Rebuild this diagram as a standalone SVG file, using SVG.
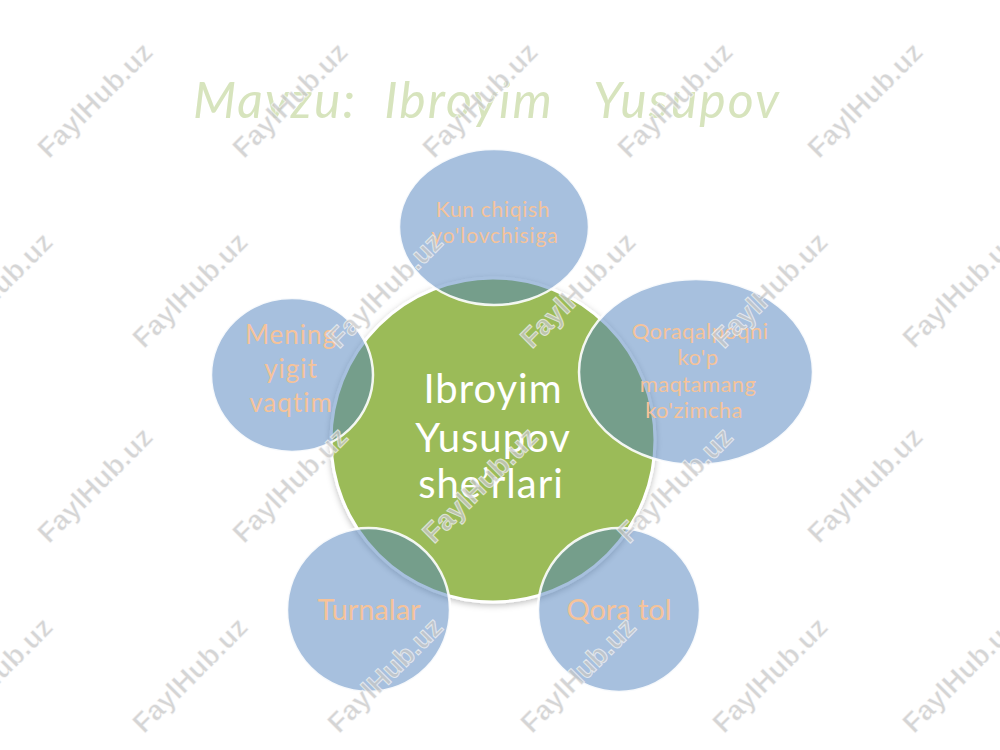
<svg xmlns="http://www.w3.org/2000/svg" width="1000" height="750" viewBox="0 0 1000 750">
  <defs>
    <filter id="shadow" x="-20%" y="-20%" width="140%" height="140%">
      <feDropShadow dx="0" dy="2" stdDeviation="3" flood-color="#000" flood-opacity="0.25"/>
    </filter>
    <style>
      .title { font-family: Lato, "Liberation Sans", sans-serif; font-style: italic; font-size: 50px; letter-spacing: 2px; fill: #D7E4BD; white-space: pre; }
      .hub { fill: #9BBB59; stroke: #FFFFFF; stroke-width: 3; }
      .sat { fill: #4F81BD; fill-opacity: 0.5; stroke: #FFFFFF; stroke-width: 2.5; stroke-opacity: 0.9; }
      .hubtext { font-family: Lato, "Liberation Sans", sans-serif; font-size: 40px; letter-spacing: 1px; fill: #FFFFFF; text-anchor: middle; }
      .sattext { font-family: Lato, "Liberation Sans", sans-serif; fill: #F5C39A; text-anchor: middle; }
      .wm { font-family: "Liberation Sans", Arial, sans-serif; font-weight: bold; font-size: 28px; fill: #C8C8C8; fill-opacity: 0.75; stroke: #FFFFFF; stroke-width: 1; stroke-opacity: 0.6; text-anchor: middle; dominant-baseline: central; }
    </style>
  </defs>
  <rect x="0" y="0" width="1000" height="750" fill="#FFFFFF"/>

  <text class="title" x="193" y="118">Mavzu:  Ibroyim   Yusupov</text>

  <g id="connectors"/>

  <g id="node-center">
    <circle class="hub" cx="493" cy="440" r="162" filter="url(#shadow)"/>
    <text class="hubtext" x="493" y="403">Ibroyim</text>
    <text class="hubtext" x="493" y="452">Yusupov</text>
    <text class="hubtext" x="491" y="498">she’rlari</text>
  </g>

  <g id="node-top">
    <ellipse class="sat" cx="494" cy="227" rx="95" ry="78"/>
    <text class="sattext" font-size="21" letter-spacing="0.7" x="493" y="217">Kun chiqish</text>
    <text class="sattext" font-size="21" letter-spacing="0.9" x="495" y="243">yo'lovchisiga</text>
  </g>

  <g id="node-right">
    <ellipse class="sat" cx="696" cy="372" rx="117" ry="93"/>
    <text class="sattext" font-size="22" letter-spacing="0.4" x="700" y="339">Qoraqalpoqni</text>
    <text class="sattext" font-size="22" letter-spacing="0.4" x="698" y="365">ko'p</text>
    <text class="sattext" font-size="22" letter-spacing="0.4" x="698" y="392">maqtamang</text>
    <text class="sattext" font-size="22" letter-spacing="0.4" x="694" y="418">ko'zimcha</text>
  </g>

  <g id="node-left">
    <ellipse class="sat" cx="292" cy="375" rx="81" ry="77"/>
    <text class="sattext" font-size="26" letter-spacing="1" x="291" y="344">Mening</text>
    <text class="sattext" font-size="26" letter-spacing="1" x="291" y="378">yigit</text>
    <text class="sattext" font-size="26" letter-spacing="1" x="291" y="412">vaqtim</text>
  </g>

  <g id="node-bottom-left">
    <ellipse class="sat" cx="368.5" cy="610" rx="81.5" ry="82"/>
    <text class="sattext" font-size="29" x="369" y="620">Turnalar</text>
  </g>

  <g id="node-bottom-right">
    <ellipse class="sat" cx="619" cy="610" rx="81" ry="82"/>
    <text class="sattext" font-size="29" x="619" y="620">Qora tol</text>
  </g>

  <g id="watermark">
    <text class="wm" x="95" y="100" transform="rotate(-45 95 100)">FaylHub.uz</text>
    <text class="wm" x="290" y="100" transform="rotate(-45 290 100)">FaylHub.uz</text>
    <text class="wm" x="480" y="100" transform="rotate(-45 480 100)">FaylHub.uz</text>
    <text class="wm" x="675" y="100" transform="rotate(-45 675 100)">FaylHub.uz</text>
    <text class="wm" x="865" y="100" transform="rotate(-45 865 100)">FaylHub.uz</text>
    <text class="wm" x="-5" y="290" transform="rotate(-45 -5 290)">FaylHub.uz</text>
    <text class="wm" x="190" y="290" transform="rotate(-45 190 290)">FaylHub.uz</text>
    <text class="wm" x="385" y="290" transform="rotate(-45 385 290)">FaylHub.uz</text>
    <text class="wm" x="578" y="290" transform="rotate(-45 578 290)">FaylHub.uz</text>
    <text class="wm" x="770" y="290" transform="rotate(-45 770 290)">FaylHub.uz</text>
    <text class="wm" x="960" y="290" transform="rotate(-45 960 290)">FaylHub.uz</text>
    <text class="wm" x="95" y="485" transform="rotate(-45 95 485)">FaylHub.uz</text>
    <text class="wm" x="290" y="485" transform="rotate(-45 290 485)">FaylHub.uz</text>
    <text class="wm" x="480" y="485" transform="rotate(-45 480 485)">FaylHub.uz</text>
    <text class="wm" x="675" y="485" transform="rotate(-45 675 485)">FaylHub.uz</text>
    <text class="wm" x="865" y="485" transform="rotate(-45 865 485)">FaylHub.uz</text>
    <text class="wm" x="-5" y="675" transform="rotate(-45 -5 675)">FaylHub.uz</text>
    <text class="wm" x="190" y="675" transform="rotate(-45 190 675)">FaylHub.uz</text>
    <text class="wm" x="385" y="675" transform="rotate(-45 385 675)">FaylHub.uz</text>
    <text class="wm" x="578" y="675" transform="rotate(-45 578 675)">FaylHub.uz</text>
    <text class="wm" x="770" y="675" transform="rotate(-45 770 675)">FaylHub.uz</text>
    <text class="wm" x="960" y="675" transform="rotate(-45 960 675)">FaylHub.uz</text>
  </g>
</svg>
